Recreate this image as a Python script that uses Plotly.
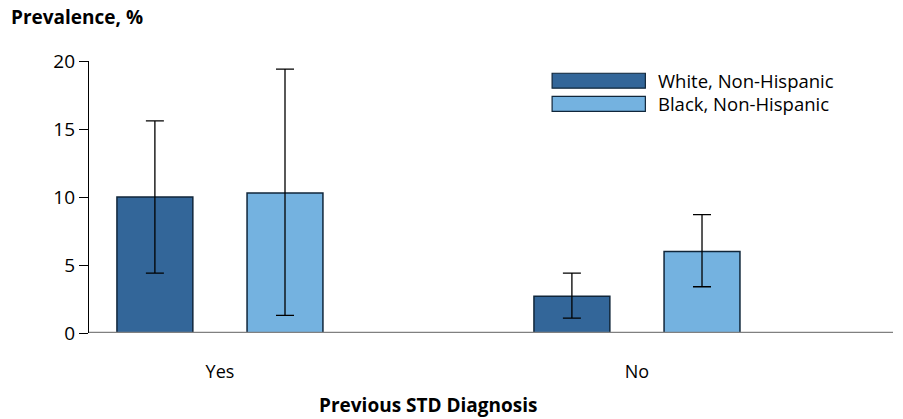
import plotly.graph_objects as go

# data
categories = ['Yes', 'No']
series_names = ['White, Non-Hispanic', 'Black, Non-Hispanic']
white_vals = [10.0, 2.7]
white_hi = [15.6, 4.4]
white_lo = [4.4, 1.1]
black_vals = [10.3, 6.0]
black_hi = [19.4, 8.7]
black_lo = [1.3, 3.4]
y_ticks = [0, 5, 10, 15, 20]

colors = ['#336699', '#74B2E0']
font = 'Open Sans'

fig = go.Figure()

series = [
    (white_vals, white_hi, white_lo, -0.247),
    (black_vals, black_hi, black_lo, 0.065),
]
for i, (vals, hi, lo, off) in enumerate(series):
    fig.add_trace(go.Bar(
        x=categories, y=vals, name=series_names[i],
        width=0.182, offset=off,
        marker=dict(color=colors[i], line=dict(color='#10263a', width=1.5)),
        error_y=dict(type='data', symmetric=False,
                     array=[h - v for h, v in zip(hi, vals)],
                     arrayminus=[v - l for v, l in zip(vals, lo)],
                     color='black', thickness=1.3, width=9),
        showlegend=False,
    ))

# grey baseline along y = 0
fig.add_shape(type='line', xref='paper', yref='y', x0=0, x1=1, y0=0, y1=0,
              line=dict(color='#808080', width=2.5))

# legend drawn by hand so the swatches are long boxes
for i, name in enumerate(series_names):
    y0 = 0.955 - i * 0.085
    fig.add_shape(type='rect', xref='paper', yref='paper',
                  x0=0.576, x1=0.692, y0=y0 - 0.055, y1=y0,
                  fillcolor=colors[i], line=dict(color='#10263a', width=1.2))
    fig.add_annotation(xref='paper', yref='paper', x=0.705, y=y0 - 0.0275,
                       text=name, showarrow=False, xanchor='left', yanchor='middle',
                       font=dict(family=font, size=18.5, color='black'))

fig.add_annotation(xref='paper', yref='paper', x=-0.1, y=1.105,
                   text='<b>Prevalence, %</b>', showarrow=False,
                   xanchor='left', yanchor='bottom',
                   font=dict(family=font, size=19, color='black'))
fig.add_annotation(xref='paper', yref='paper', x=0.422, y=-0.21,
                   text='<b>Previous STD Diagnosis</b>', showarrow=False,
                   xanchor='center', yanchor='top',
                   font=dict(family=font, size=19, color='black'))

fig.update_layout(
    width=903, height=419,
    margin=dict(l=89, r=10, t=61, b=86),
    plot_bgcolor='white', paper_bgcolor='white',
    barmode='overlay',
    font=dict(family=font, size=18, color='black'),
    xaxis=dict(range=[-0.314, 1.614], showgrid=False, zeroline=False,
               showline=False, ticks='', ticklabelstandoff=26,
               tickfont=dict(size=18)),
    yaxis=dict(range=[0, 20], tickvals=y_ticks, showgrid=False, zeroline=False,
               showline=True, linecolor='black', linewidth=1.3,
               ticks='outside', ticklen=9, tickcolor='black', tickwidth=1.3,
               tickfont=dict(size=19)),
)

fig.write_html('out.html', config={'displayModeBar': False},
               post_script="document.body.style.margin='0';")
